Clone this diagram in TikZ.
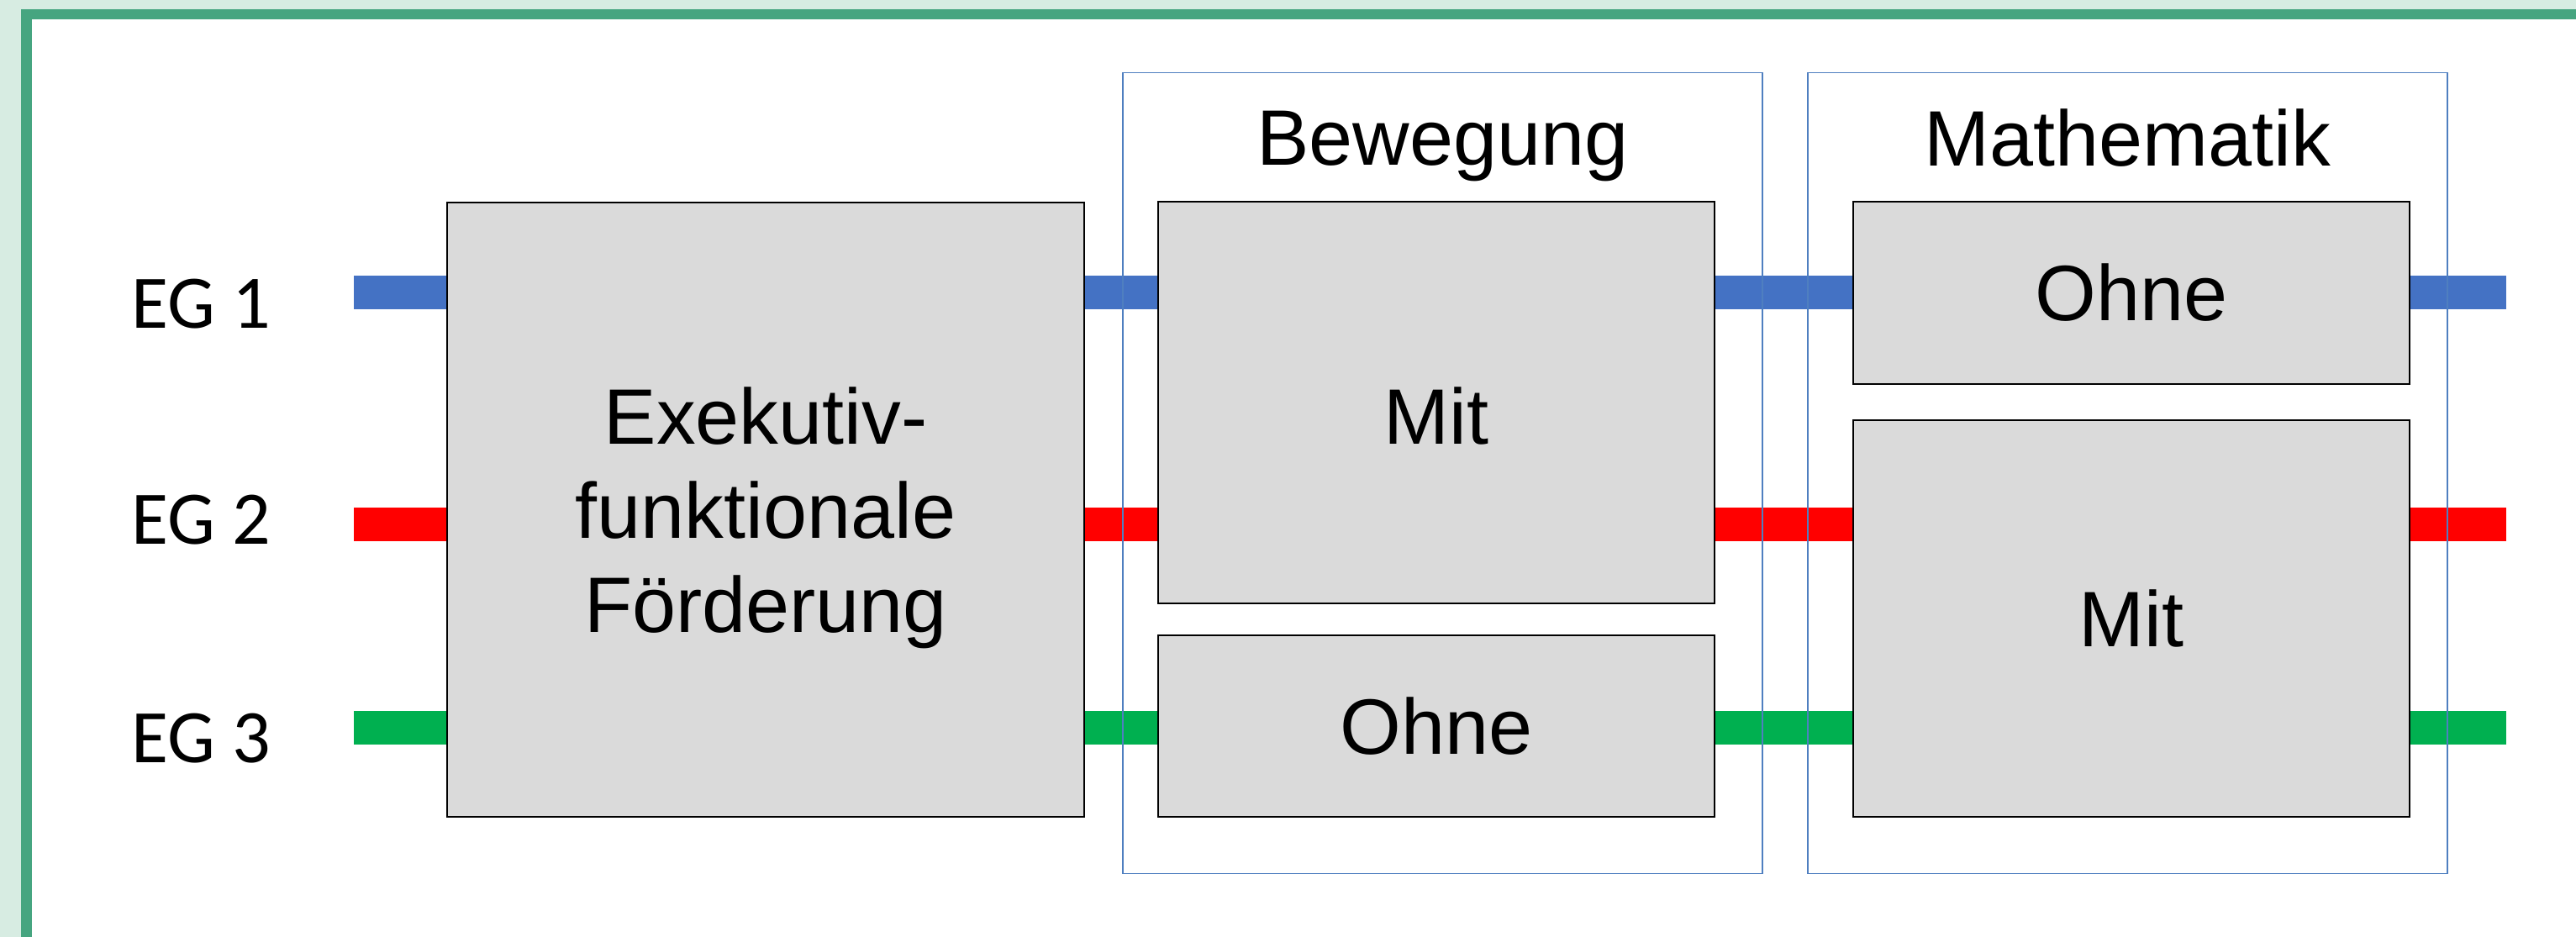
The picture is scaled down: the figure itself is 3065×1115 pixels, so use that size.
\documentclass[tikz,border=0pt]{standalone}
\usepackage{fontspec}
\setmainfont{Liberation Sans}
\newfontfamily\egfont{Carlito}
\definecolor{pagebg}{HTML}{D7ECE2}
\definecolor{frameGreen}{HTML}{46A580}
\definecolor{boxfill}{HTML}{DADADA}
\definecolor{groupblue}{HTML}{4F7FC0}
\definecolor{egBlue}{HTML}{4472C4}
\definecolor{egRed}{HTML}{FF0000}
\definecolor{egGreen}{HTML}{00B050}
\tikzset{
  stage/.style={draw=black, line width=0.025cm, fill=boxfill, inner sep=0pt,
    font=\fontsize{26.6pt}{31.9pt}\selectfont, align=center},
  groupframe/.style={draw=groupblue, line width=0.015cm, fill=none, inner sep=0pt},
  grouptitle/.style={anchor=base, inner sep=0pt, font=\fontsize{26.6pt}{31.9pt}\selectfont},
  eglabel/.style={anchor=base west, inner sep=0pt, font=\egfont\fontsize{25.6pt}{30pt}\selectfont},
  egline/.style={line width=0.4cm, line cap=butt},
}
\begin{document}
\begin{tikzpicture}[x=0.01cm, y=-0.01cm]
  \useasboundingbox (0,0) rectangle (3065,1115);
  % page background and green frame
  \fill[pagebg] (0,0) rectangle (3065,1115);
  \fill[frameGreen] (25,11) rectangle (3065,1115);
  \fill[white] (37.5,23) rectangle (3065,1115);

  % group labels on the left
  \node[eglabel] (eg1) at (156,390) {EG 1};
  \node[eglabel] (eg2) at (156,647) {EG 2};
  \node[eglabel] (eg3) at (156,907) {EG 3};

  % line ends of the three groups
  \coordinate (s1) at (421,348);  \coordinate (e1) at (2982,348);
  \coordinate (s2) at (421,624);  \coordinate (e2) at (2982,624);
  \coordinate (s3) at (421,866);  \coordinate (e3) at (2982,866);
  \draw[egline, egBlue]  (s1) -- (e1);
  \draw[egline, egRed]   (s2) -- (e2);
  \draw[egline, egGreen] (s3) -- (e3);

  % intervention blocks
  \node[stage, minimum width=7.58cm, minimum height=7.31cm, text depth=0pt]
    (exec) at (911,606.5) {Exekutiv-\\funktionale\\Förderung};
  \node[stage, minimum width=6.62cm, minimum height=4.78cm]
    (bewmit) at (1709,479) {};
  \node[font=\fontsize{26.6pt}{31.9pt}\selectfont, inner sep=0pt]
    (bewmittext) at (1709,495) {Mit};
  \node[stage, minimum width=6.62cm, minimum height=2.16cm]
    (bewohne) at (1709,864) {Ohne};
  \node[stage, minimum width=6.62cm, minimum height=2.17cm]
    (mathohne) at (2536,348.5) {Ohne};
  \node[stage, minimum width=6.62cm, minimum height=4.72cm]
    (mathmit) at (2536,736) {Mit};

  % group frames with titles
  \node[groupframe, minimum width=7.61cm, minimum height=9.52cm]
    (bewframe) at (1716.5,563) {};
  \node[groupframe, minimum width=7.61cm, minimum height=9.52cm]
    (mathframe) at (2531.5,563) {};
  \node[grouptitle] (bewtitle) at (1716.5,196) {Bewegung};
  \node[grouptitle] (mathtitle) at (2531.5,197) {Mathematik};
\end{tikzpicture}
\end{document}
